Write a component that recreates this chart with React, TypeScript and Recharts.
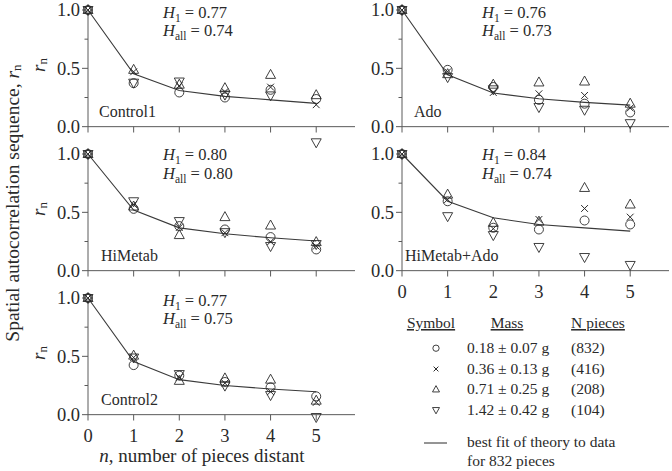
import React from 'react';
import { ComposedChart, Scatter, Line, XAxis, YAxis, ReferenceLine } from 'recharts';

// ---- data ----
const nValues = [0, 1, 2, 3, 4, 5];
const xTicks = [0, 1, 2, 3, 4, 5];
const yTicks = [0, 0.25, 0.5, 0.75, 1];
const yMajor = [0, 0.5, 1];

const control1Circle = [1, 0.373, 0.293, 0.25, 0.316, 0.237];
const control1Cross = [1, 0.47, 0.35, 0.3, 0.339, 0.188];
const control1TriUp = [1, 0.487, 0.36, 0.33, 0.444, 0.27];
const control1TriDown = [1, 0.377, 0.387, 0.275, 0.268, -0.134];
const control1Fit = [1, 0.453, 0.31, 0.26, 0.23, 0.2];

const adoCircle = [1, 0.487, 0.34, 0.23, 0.197, 0.122];
const adoCross = [1, 0.47, 0.293, 0.282, 0.268, 0.16];
const adoTriUp = [1, 0.45, 0.36, 0.379, 0.387, 0.197];
const adoTriDown = [1, 0.425, 0.32, 0.168, 0.145, 0.03];
const adoFit = [1, 0.444, 0.288, 0.239, 0.208, 0.185];

const hiMetabCircle = [1, 0.53, 0.382, 0.353, 0.288, 0.182];
const hiMetabCross = [1, 0.567, 0.37, 0.325, 0.248, 0.21];
const hiMetabTriUp = [1, 0.55, 0.305, 0.459, 0.387, 0.245];
const hiMetabTriDown = [1, 0.595, 0.425, 0.33, 0.211, 0.228];
const hiMetabFit = [1, 0.519, 0.367, 0.316, 0.282, 0.254];

const hiMetabAdoCircle = [1, 0.595, 0.368, 0.353, 0.43, 0.396];
const hiMetabAdoCross = [1, 0.61, 0.36, 0.439, 0.533, 0.459];
const hiMetabAdoTriUp = [1, 0.652, 0.41, 0.42, 0.709, 0.567];
const hiMetabAdoTriDown = [1, 0.467, 0.305, 0.203, 0.117, 0.049];
const hiMetabAdoFit = [1, 0.595, 0.453, 0.396, 0.367, 0.339];

const control2Circle = [1, 0.425, 0.335, 0.28, 0.234, 0.157];
const control2Cross = [1, 0.49, 0.32, 0.27, 0.197, 0.105];
const control2TriUp = [1, 0.506, 0.29, 0.311, 0.3, 0.12];
const control2TriDown = [1, 0.49, 0.348, 0.249, 0.168, -0.02];
const control2Fit = [1, 0.455, 0.3, 0.25, 0.22, 0.197];

const legendMass = ['0.18 ± 0.07 g', '0.36 ± 0.13 g', '0.71 ± 0.25 g', '1.42 ± 0.42 g'];
const legendPieces = ['(832)', '(416)', '(208)', '(104)'];

// ---- styling ----
const FONT = '"Liberation Serif", "Times New Roman", Times, serif';
const INK = '#2a2a2a';
const AXIS = '#5a5a5a';
const X_MAX = 5.85;

const toPoints = (vals: number[]) => vals.map((y, i) => ({ x: nValues[i], y }));

type MarkProps = { cx?: number; cy?: number; k?: number };

const CircleMark = ({ cx = 0, cy = 0, k = 1 }: MarkProps) => (
  <circle cx={cx} cy={cy} r={4.5 * k} fill="none" stroke={INK} strokeWidth={0.9} />
);
const CrossMark = ({ cx = 0, cy = 0, k = 1 }: MarkProps) => {
  const s = 3.4 * k;
  return (
    <path
      d={`M${cx - s},${cy - s}L${cx + s},${cy + s}M${cx - s},${cy + s}L${cx + s},${cy - s}`}
      stroke={INK}
      strokeWidth={1}
      fill="none"
    />
  );
};
const TriUpMark = ({ cx = 0, cy = 0, k = 1 }: MarkProps) => {
  const w = 5 * k;
  return (
    <path
      d={`M${cx},${cy - 5.5 * k}L${cx + w},${cy + 3.5 * k}L${cx - w},${cy + 3.5 * k}Z`}
      stroke={INK}
      strokeWidth={0.9}
      fill="none"
    />
  );
};
const TriDownMark = ({ cx = 0, cy = 0, k = 1 }: MarkProps) => {
  const w = 5 * k;
  return (
    <path
      d={`M${cx},${cy + 5.5 * k}L${cx + w},${cy - 3.5 * k}L${cx - w},${cy - 3.5 * k}Z`}
      stroke={INK}
      strokeWidth={0.9}
      fill="none"
    />
  );
};

const TICK_SIZE = 6;
const TICK_MARGIN = 3;

const YTick = (props: any) => {
  const { x, y, payload } = props;
  const v = payload.value as number;
  const axisX = x + TICK_SIZE + TICK_MARGIN;
  const major = yMajor.includes(v);
  return (
    <g>
      <line x1={axisX - (major ? 6 : 3.5)} x2={axisX} y1={y} y2={y} stroke={AXIS} strokeWidth={1} />
      {major && (
        <text
          x={axisX - 8}
          y={y}
          dy="0.35em"
          textAnchor="end"
          fontFamily={FONT}
          fontSize={18.5}
          fill={INK}
        >
          {v.toFixed(1)}
        </text>
      )}
    </g>
  );
};

type PanelProps = {
  left: number;
  top: number;
  circle: number[];
  cross: number[];
  triUp: number[];
  triDown: number[];
  fit: number[];
  showXLabels: boolean;
};

const Panel = ({ left, top, circle, cross, triUp, triDown, fit, showXLabels }: PanelProps) => (
  <div style={{ position: 'absolute', left: left - 60, top: top - 10 }}>
    <ComposedChart width={337} height={160} margin={{ top: 10, right: 10, bottom: 10, left: 0 }}>
      <XAxis type="number" dataKey="x" domain={[0, X_MAX]} hide />
      <YAxis
        type="number"
        domain={[-0.2, 1]}
        ticks={yTicks}
        interval={0}
        axisLine={false}
        tickLine={false}
        tickSize={TICK_SIZE}
        tickMargin={TICK_MARGIN}
        width={60}
        tick={<YTick />}
      />
      <ReferenceLine ifOverflow="visible" segment={[{ x: 0, y: 0 }, { x: 0, y: 1 }]} stroke={AXIS} strokeWidth={1} />
      <ReferenceLine ifOverflow="visible" segment={[{ x: 0, y: 0 }, { x: X_MAX, y: 0 }]} stroke={AXIS} strokeWidth={1} />
      {xTicks.map((t) => (
        <ReferenceLine
          key={t}
          ifOverflow="visible"
          segment={[{ x: t, y: 0 }, { x: t, y: -0.05 }]}
          stroke={AXIS}
          strokeWidth={1}
          label={
            showXLabels
              ? { value: String(t), position: 'bottom', offset: 8, fill: INK, fontSize: 18.5, fontFamily: FONT }
              : undefined
          }
        />
      ))}
      <Line
        data={toPoints(fit)}
        dataKey="y"
        type="linear"
        stroke="#3a3a3a"
        strokeWidth={1.1}
        dot={false}
        activeDot={false}
        isAnimationActive={false}
      />
      <Scatter data={toPoints(circle)} dataKey="y" shape={(p: any) => <CircleMark cx={p.cx} cy={p.cy} />} isAnimationActive={false} />
      <Scatter data={toPoints(cross)} dataKey="y" shape={(p: any) => <CrossMark cx={p.cx} cy={p.cy} />} isAnimationActive={false} />
      <Scatter data={toPoints(triUp)} dataKey="y" shape={(p: any) => <TriUpMark cx={p.cx} cy={p.cy} />} isAnimationActive={false} />
      <Scatter data={toPoints(triDown)} dataKey="y" shape={(p: any) => <TriDownMark cx={p.cx} cy={p.cy} />} isAnimationActive={false} />
    </ComposedChart>
  </div>
);

const HText = ({ x, y, sub, value }: { x: number; y: number; sub: string; value: string }) => (
  <text x={x} y={y} fontFamily={FONT} fontSize={16.5} fill={INK}>
    <tspan fontStyle="italic">H</tspan>
    <tspan fontSize={11.5} dy={4}>{sub}</tspan>
    <tspan dy={-4}>{` = ${value}`}</tspan>
  </text>
);

const RnLabel = ({ x, y, size }: { x: number; y: number; size: number }) => (
  <text
    x={x}
    y={y}
    transform={`rotate(-90 ${x} ${y})`}
    textAnchor="middle"
    dominantBaseline="central"
    fontFamily={FONT}
    fontSize={size}
    fill={INK}
  >
    <tspan fontStyle="italic">r</tspan>
    <tspan fontSize={size * 0.68} dy={size * 0.22}>n</tspan>
  </text>
);

const COL_X = [88, 402.3];
const ROW_Y = [10, 154, 298];

export default function App() {
  const legendRows = [CircleMark, CrossMark, TriUpMark, TriDownMark];
  const rowBase = [352.7, 373.5, 394, 414.5];
  return (
    <div style={{ position: 'absolute', left: 0, top: 0, width: 672, height: 471, background: '#fff', overflow: 'hidden' }}>
      <Panel left={COL_X[0]} top={ROW_Y[0]} circle={control1Circle} cross={control1Cross} triUp={control1TriUp} triDown={control1TriDown} fit={control1Fit} showXLabels={false} />
      <Panel left={COL_X[1]} top={ROW_Y[0]} circle={adoCircle} cross={adoCross} triUp={adoTriUp} triDown={adoTriDown} fit={adoFit} showXLabels={false} />
      <Panel left={COL_X[0]} top={ROW_Y[1]} circle={hiMetabCircle} cross={hiMetabCross} triUp={hiMetabTriUp} triDown={hiMetabTriDown} fit={hiMetabFit} showXLabels={false} />
      <Panel left={COL_X[1]} top={ROW_Y[1]} circle={hiMetabAdoCircle} cross={hiMetabAdoCross} triUp={hiMetabAdoTriUp} triDown={hiMetabAdoTriDown} fit={hiMetabAdoFit} showXLabels={true} />
      <Panel left={COL_X[0]} top={ROW_Y[2]} circle={control2Circle} cross={control2Cross} triUp={control2TriUp} triDown={control2TriDown} fit={control2Fit} showXLabels={true} />

      <svg width={672} height={471} style={{ position: 'absolute', left: 0, top: 0, pointerEvents: 'none' }}>
        {/* H values */}
        <HText x={163} y={ROW_Y[0] + 8} sub="1" value="0.77" />
        <HText x={163} y={ROW_Y[0] + 26} sub="all" value="0.74" />
        <HText x={482} y={ROW_Y[0] + 8} sub="1" value="0.76" />
        <HText x={482} y={ROW_Y[0] + 26} sub="all" value="0.73" />
        <HText x={163} y={ROW_Y[1] + 6} sub="1" value="0.80" />
        <HText x={163} y={ROW_Y[1] + 25} sub="all" value="0.80" />
        <HText x={482} y={ROW_Y[1] + 6} sub="1" value="0.84" />
        <HText x={482} y={ROW_Y[1] + 25} sub="all" value="0.74" />
        <HText x={163} y={ROW_Y[2] + 8} sub="1" value="0.77" />
        <HText x={163} y={ROW_Y[2] + 26} sub="all" value="0.75" />

        {/* panel names */}
        <text x={99} y={117} fontFamily={FONT} fontSize={16} fill={INK}>Control1</text>
        <text x={414} y={117} fontFamily={FONT} fontSize={16} fill={INK}>Ado</text>
        <text x={101} y={261} fontFamily={FONT} fontSize={16} fill={INK}>HiMetab</text>
        <text x={405} y={261} fontFamily={FONT} fontSize={16} fill={INK}>HiMetab+Ado</text>
        <text x={101} y={405} fontFamily={FONT} fontSize={16} fill={INK}>Control2</text>

        {/* y labels */}
        <RnLabel x={38} y={ROW_Y[0] + 55} size={19} />
        <RnLabel x={38} y={ROW_Y[1] + 55} size={19} />
        <RnLabel x={38} y={ROW_Y[2] + 55} size={19} />
        <text
          x={12}
          y={203}
          transform="rotate(-90 12 203)"
          textAnchor="middle"
          dominantBaseline="central"
          fontFamily={FONT}
          fontSize={19.5}
          fill={INK}
        >
          Spatial autocorrelation sequence,{' '}
          <tspan fontStyle="italic">r</tspan>
          <tspan fontSize={13} dy={4}>n</tspan>
        </text>

        {/* x label */}
        <text x={202} y={462} textAnchor="middle" fontFamily={FONT} fontSize={19} fill={INK}>
          <tspan fontStyle="italic">n</tspan>, number of pieces distant
        </text>

        {/* legend */}
        <text x={431} y={328} textAnchor="middle" fontFamily={FONT} fontSize={15.5} fill={INK} textDecoration="underline">Symbol</text>
        <text x={507} y={328} textAnchor="middle" fontFamily={FONT} fontSize={15.5} fill={INK} textDecoration="underline">Mass</text>
        <text x={598} y={328} textAnchor="middle" fontFamily={FONT} fontSize={15.5} fill={INK} textDecoration="underline">N pieces</text>
        {legendRows.map((Mark, i) => (
          <g key={i}>
            <Mark cx={436} cy={rowBase[i] - 4.5} k={0.7} />
            <text x={467} y={rowBase[i]} fontFamily={FONT} fontSize={15.5} fill={INK}>{legendMass[i]}</text>
            <text x={571} y={rowBase[i]} fontFamily={FONT} fontSize={15.5} fill={INK}>{legendPieces[i]}</text>
          </g>
        ))}
        <line x1={424} x2={447} y1={443} y2={443} stroke={INK} strokeWidth={1} />
        <text x={467} y={447} fontFamily={FONT} fontSize={15.5} fill={INK}>best fit of theory to data</text>
        <text x={467} y={466} fontFamily={FONT} fontSize={15.5} fill={INK}>for 832 pieces</text>
      </svg>
    </div>
  );
}
